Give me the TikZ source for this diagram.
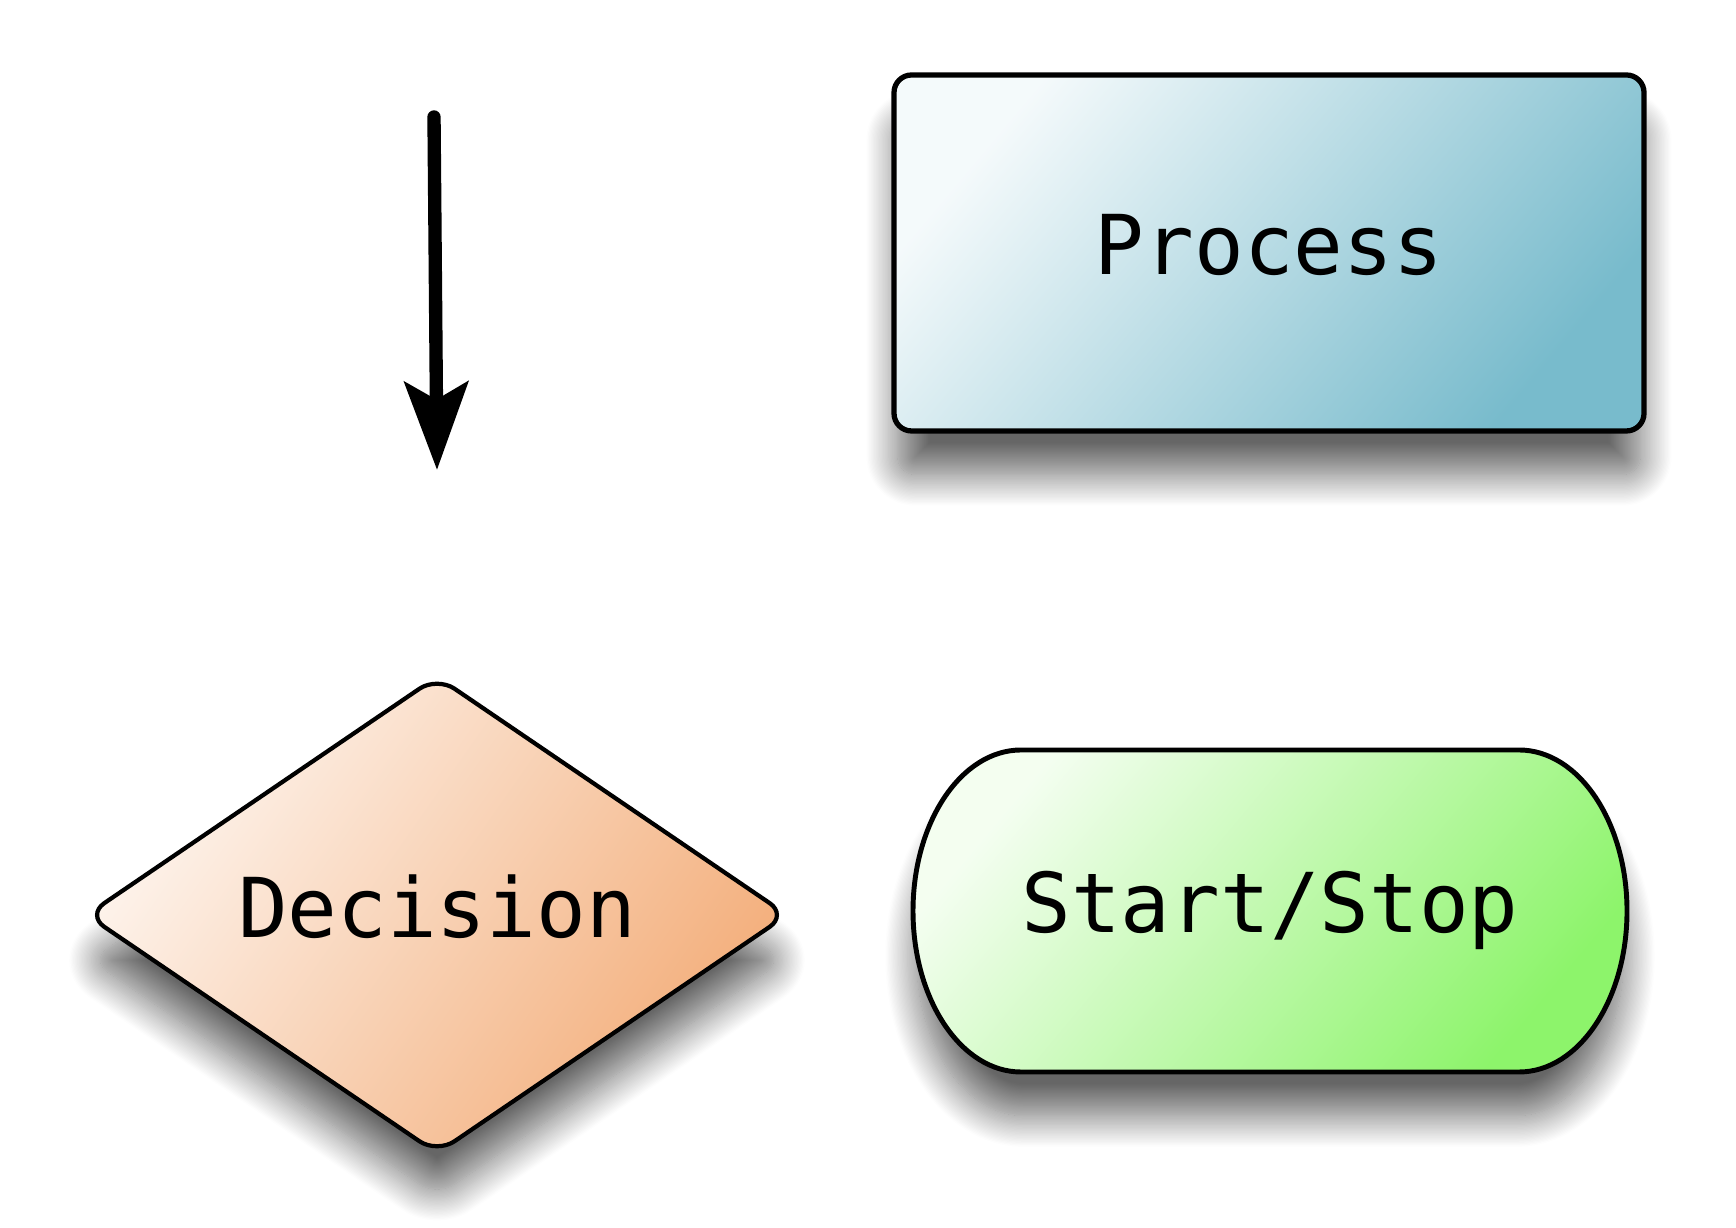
\documentclass[tikz,border=0pt]{standalone}
\usepackage{fontspec}
\setmonofont{DejaVu Sans Mono}
\usetikzlibrary{arrows.meta,shapes.geometric,shadows.blur}
\definecolor{procblue}{HTML}{78BBCC}
\definecolor{decorange}{HTML}{F3AD79}
\definecolor{termgreen}{HTML}{8DF46B}
\tikzset{chart/.style={draw, line width=1.5pt,
         font=\ttfamily\fontsize{23.5}{28}\selectfont, text depth=5pt,
         blur shadow={shadow xshift=0pt, shadow yshift=-13pt, shadow scale=0.99,
                      shadow blur radius=9pt, shadow blur steps=25,
                      shadow opacity=60}},
         process/.style={chart, rectangle, rounded corners=5pt,
         minimum width=7.50cm, minimum height=3.56cm,
         top color=procblue!8, bottom color=procblue, shading angle=50},
         decision/.style={chart, diamond, line width=1.2pt, rounded corners=6pt,
         inner sep=0pt, minimum width=7.02cm, minimum height=4.72cm,
         top color=decorange!12, bottom color=decorange, shading angle=55},
         terminal/.style={chart, line width=1.4pt,
         top color=termgreen!10, bottom color=termgreen, shading angle=50},
         chartlabel/.style={font=\ttfamily\fontsize{23.5}{28}\selectfont, text depth=5pt}}

\begin{document}
\begin{tikzpicture}
  \useasboundingbox (0,0) rectangle (17.36,12.28);
  \coordinate (arrowtop) at (4.34,11.11);
  \coordinate (arrowtip) at (4.37,7.58);
  \draw[line width=3.8pt, line cap=round,
        -{Stealth[length=25pt,width=18pt,inset=5pt]}] (arrowtop) -- (arrowtip);

  \node[process] (process) at (12.69,9.75) {Process};
  \node[decision] (decision) at (4.37,3.13) {Decision};

  \path[terminal] (10.21,4.78) -- (15.19,4.78)
     arc[start angle=90, end angle=-90, x radius=1.08, y radius=1.61]
     -- (10.21,1.56)
     arc[start angle=270, end angle=90, x radius=1.08, y radius=1.61] -- cycle;
  \node[chartlabel] (startstop) at (12.70,3.17) {Start/Stop};
\end{tikzpicture}
\end{document}
